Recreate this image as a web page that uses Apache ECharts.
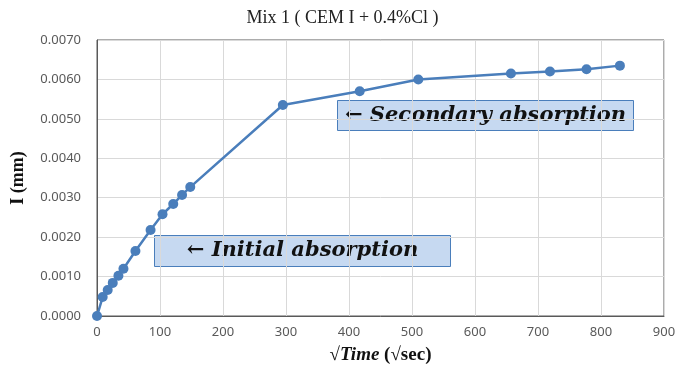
<!DOCTYPE html>
<html>
<head>
<meta charset="utf-8">
<script src="https://cdn.jsdelivr.net/npm/echarts@6/dist/echarts.min.js"></script>
<style>
  html, body { margin: 0; padding: 0; background: #fff; }
  #chart { width: 685px; height: 387px; }
</style>
</head>
<body>
<div id="chart"></div>
<script>
// sqrt(time) in sqrt(sec)
var sqrtTime = [0, 9, 17, 25, 34, 42, 61, 85, 104, 121, 135, 148, 295, 417, 510, 657, 719, 777, 830];
// absorption I (mm)
var absorption = [0, 0.00048, 0.00066, 0.00084, 0.00102, 0.0012, 0.00165, 0.00218, 0.00258, 0.00284,
    0.00307, 0.00327, 0.00535, 0.0057, 0.006, 0.00615, 0.0062, 0.00626, 0.00635];

var titleText = 'Mix 1 ( CEM I + 0.4%Cl )';
var yName = 'I (mm)';
var notes = ['\u2190 Initial absorption', '\u2190 Secondary absorption'];

var myChart = echarts.init(document.getElementById('chart'));

var points = [];
for (let i = 0; i < sqrtTime.length; i++) {
    points.push([sqrtTime[i], absorption[i]]);
}

function noteBox(txt, left, top, w, h) {
    return {
        type: 'group',
        left: left,
        top: top,
        children: [
            {
                type: 'rect',
                shape: {x: 0, y: 0, width: w, height: h},
                style: {fill: '#c6d9f1', stroke: '#4a7ebb', lineWidth: 1}
            },
            {
                type: 'text',
                x: w / 2,
                y: h / 2,
                style: {
                    text: txt,
                    fill: '#111',
                    font: 'italic bold 21px "DejaVu Serif"',
                    align: 'center',
                    verticalAlign: 'middle'
                }
            }
        ]
    };
}

var option = {
    animation: false,
    title: {
        text: titleText,
        left: 'center',
        top: 4,
        textStyle: {
            fontFamily: 'Liberation Serif',
            fontSize: 18,
            fontWeight: 'normal',
            color: '#222'
        }
    },
    grid: {
        left: 97,
        right: 21,
        top: 40,
        bottom: 71,
        show: true,
        borderColor: '#595959',
        borderWidth: 1
    },
    xAxis: {
        type: 'value',
        min: 0,
        max: 900,
        interval: 100,
        name: '{a|\u221A}{b|Time}{a| (\u221Asec)}',
        nameLocation: 'middle',
        nameGap: 30,
        nameTextStyle: {
            rich: {
                a: {fontFamily: 'Liberation Serif', fontSize: 19, fontWeight: 'bold', color: '#111'},
                b: {fontFamily: 'Liberation Serif', fontSize: 19, fontWeight: 'bold', fontStyle: 'italic', color: '#111'}
            }
        },
        axisLine: {lineStyle: {color: '#595959'}},
        axisTick: {show: false},
        axisLabel: {fontFamily: 'Noto Sans', fontSize: 13, color: '#595959', margin: 10},
        splitLine: {lineStyle: {color: '#d9d9d9'}}
    },
    yAxis: {
        type: 'value',
        min: 0,
        max: 0.007,
        interval: 0.001,
        name: yName,
        nameLocation: 'middle',
        nameGap: 70,
        nameTextStyle: {fontFamily: 'Liberation Serif', fontSize: 18, fontWeight: 'bold', color: '#111'},
        axisLine: {show: true, lineStyle: {color: '#595959'}},
        axisTick: {show: false},
        axisLabel: {
            fontFamily: 'Noto Sans', fontSize: 13, color: '#595959', margin: 16,
            formatter: function (v) { return v.toFixed(4); }
        },
        splitLine: {lineStyle: {color: '#d9d9d9'}}
    },
    series: [{
        type: 'line',
        data: points,
        symbol: 'circle',
        symbolSize: 10,
        lineStyle: {color: '#4a7ebb', width: 2.5},
        itemStyle: {color: '#4a7ebb'}
    }],
    graphic: [
        noteBox(notes[0], 154, 235, 296, 31),
        noteBox(notes[1], 337, 100, 296, 30)
    ]
};

myChart.setOption(option, true);
</script>
</body>
</html>
